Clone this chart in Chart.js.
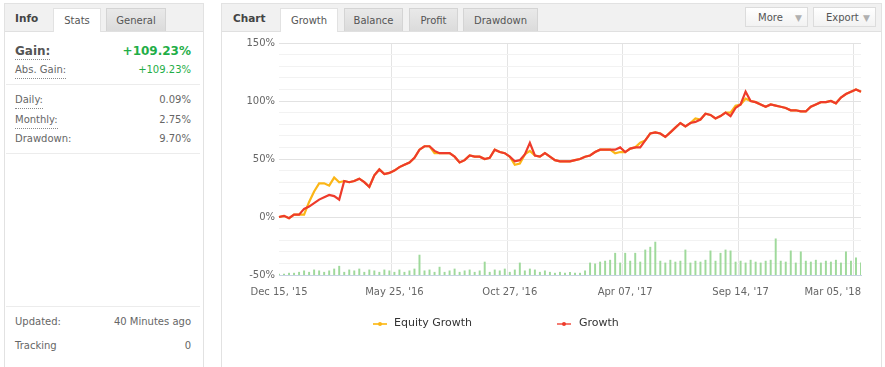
<!DOCTYPE html>
<html lang="en">
<head>
    <meta charset="UTF-8">
    <title>Growth Chart</title>
    <script src="https://cdn.jsdelivr.net/npm/chart.js"></script>
    <style>
        body {
            margin: 0;
            width: 885px;
            height: 367px;
            overflow: hidden;
            position: relative;
            background: #ffffff;
            font-family: "DejaVu Sans", Verdana, sans-serif;
            font-size: 10px;
            color: #666;
        }

        .panel {
            position: absolute;
            top: 3px;
            height: 400px;
            border: 1px solid #e2e2e2;
            background: #fff;
        }

        #info { left: 4px; width: 198px; }
        #chartBox { left: 221px; width: 659px; }

        .head {
            position: absolute;
            left: 0; right: 0; top: 0;
            height: 27px;
            background: #f1f1f1;
            border-bottom: 1px solid #e0e0e0;
        }

        .title {
            position: absolute;
            top: 8px;
            font-weight: bold;
            font-size: 10.5px;
            color: #444;
        }

        .tab {
            position: absolute;
            top: 4px;
            height: 23px;
            line-height: 24px;
            text-align: center;
            box-sizing: border-box;
            border: 1px solid #d4d4d4;
            border-bottom: none;
            background: linear-gradient(#e9e9e9, #dbdbdb);
            color: #555;
        }

        .tab.on {
            background: #fff;
            height: 24px;
            border-color: #e2e2e2;
        }

        .btn {
            position: absolute;
            top: 3px;
            height: 20px;
            line-height: 20px;
            box-sizing: border-box;
            border: 1px solid #dcdcdc;
            background: linear-gradient(#ffffff, #f2f2f2);
            color: #555;
            padding-left: 12px;
        }

        .btn .arr {
            position: absolute;
            right: 5px;
            top: 0;
            color: #b0b0b0;
            font-size: 9px;
        }

        .row {
            position: absolute;
            left: 10px;
            right: 12px;
            height: 16px;
            line-height: 16px;
        }

        .row .lab { float: left; }
        .row .val { float: right; }
        .dot { border-bottom: 1px dotted #8a8a8a; }

        .sep {
            position: absolute;
            left: 1px;
            right: 3px;
            height: 1px;
            background: #ececec;
        }

        .green { color: #1fae48; }

        #growthChart {
            position: absolute;
            left: 222px;
            top: 32px;
        }

        .leg {
            position: absolute;
            top: 316px;
            font-size: 11px;
            color: #333;
            line-height: 14px;
        }

        .mark {
            position: absolute;
            top: 323px;
            width: 14px;
            height: 2px;
        }

        .mark i {
            position: absolute;
            left: 5px;
            top: -1px;
            width: 4px;
            height: 4px;
            border-radius: 2px;
        }
    </style>
</head>
<body>
    <div class="panel" id="info">
        <div class="head">
            <span class="title" style="left:10px;">Info</span>
            <div class="tab on" style="left:48px; width:48px;">Stats</div>
            <div class="tab" style="left:101px; width:60px;">General</div>
        </div>

        <div class="row" style="top:39px;">
            <span class="lab dot" style="font-weight:bold; font-size:12px; color:#555;">Gain:</span>
            <span class="val green" style="font-weight:bold; font-size:12px;">+109.23%</span>
        </div>
        <div class="row" style="top:58px;">
            <span class="lab dot">Abs. Gain:</span>
            <span class="val green">+109.23%</span>
        </div>
        <div class="sep" style="top:80px;"></div>
        <div class="row" style="top:88px;">
            <span class="lab dot">Daily:</span>
            <span class="val">0.09%</span>
        </div>
        <div class="row" style="top:108px;">
            <span class="lab dot">Monthly:</span>
            <span class="val">2.75%</span>
        </div>
        <div class="row" style="top:127px;">
            <span class="lab">Drawdown:</span>
            <span class="val">9.70%</span>
        </div>
        <div class="sep" style="top:149px;"></div>

        <div class="sep" style="top:302px;"></div>
        <div class="row" style="top:310px;">
            <span class="lab">Updated:</span>
            <span class="val">40 Minutes ago</span>
        </div>
        <div class="row" style="top:334px;">
            <span class="lab">Tracking</span>
            <span class="val">0</span>
        </div>
    </div>

    <div class="panel" id="chartBox">
        <div class="head">
            <span class="title" style="left:11px;">Chart</span>
            <div class="tab on" style="left:58px; width:58px;">Growth</div>
            <div class="tab" style="left:122px; width:59px;">Balance</div>
            <div class="tab" style="left:187px; width:49px;">Profit</div>
            <div class="tab" style="left:241px; width:75px;">Drawdown</div>
            <div class="btn" style="left:523px; width:63px;">More<span class="arr">&#9660;</span></div>
            <div class="btn" style="left:591px; width:63px;">Export<span class="arr">&#9660;</span></div>
        </div>
    </div>

    <canvas id="growthChart" width="660" height="335"></canvas>

    <div class="mark" style="left:373px; background:#fcc43c;"><i style="background:#fbb617;"></i></div>
    <div class="leg" style="left:394px;">Equity Growth</div>
    <div class="mark" style="left:557px; background:#f47c72;"><i style="background:#ee3b2b;"></i></div>
    <div class="leg" style="left:579px;">Growth</div>

    <script>
        // Growth (%), one point every ~5px
        const growth = [
            0, 1, -1, 2, 2, 7, 9, 12, 15, 17,
            19, 18, 15, 31, 30, 31, 33, 30, 26, 36,
            41, 37, 38, 40, 43, 45, 47, 51, 58, 61,
            61, 57, 55, 55, 55, 52, 47, 49, 53, 52,
            52, 50, 51, 58, 56, 55, 52, 48, 49, 54,
            64, 53, 52, 55, 52, 49, 48, 48, 48, 49,
            50, 52, 53, 56, 58, 58, 58, 58, 60, 56,
            59, 60, 60, 66, 72, 73, 72, 69, 73, 77,
            81, 78, 81, 82, 84, 89, 88, 85, 87, 90,
            87, 94, 97, 108, 100, 99, 97, 95, 97, 96,
            95, 94, 92, 92, 91, 91, 95, 97, 99, 99,
            100, 98, 103, 106, 108, 110, 108
        ];

        // Equity growth (%)
        const equity = [
            0, 1, -1, 2, 2, 2, 13, 22, 29, 29,
            27, 34, 30, 31, 30, 31, 33, 30, 26, 36,
            41, 37, 38, 40, 43, 45, 47, 51, 58, 61,
            61, 55, 55, 55, 55, 52, 47, 49, 53, 52,
            52, 50, 51, 58, 56, 55, 52, 45, 46, 54,
            57, 53, 52, 55, 52, 49, 48, 48, 48, 49,
            50, 52, 53, 56, 58, 58, 58, 55, 56, 56,
            59, 60, 64, 66, 72, 73, 72, 69, 73, 77,
            81, 78, 81, 85, 84, 89, 88, 85, 87, 90,
            90, 96, 97, 102, 100, 99, 97, 95, 97, 96,
            95, 94, 92, 92, 91, 91, 95, 97, 99, 99,
            100, 98, 103, 106, 108, 110, 108
        ];

        // Traded volume (lots) shown as thin bars along the bottom
        const volume = [
            0.02, 0.02, 0.04, 0.04, 0.06, 0.09, 0.06, 0.11, 0.09, 0.06,
            0.09, 0.13, 0.19, 0.06, 0.11, 0.09, 0.13, 0.06, 0.11, 0.09,
            0.06, 0.11, 0.09, 0.06, 0.11, 0.06, 0.09, 0.13, 0.43, 0.09,
            0.11, 0.06, 0.17, 0.06, 0.09, 0.13, 0.06, 0.09, 0.11, 0.06,
            0.09, 0.28, 0.06, 0.11, 0.09, 0.13, 0.06, 0.11, 0.26, 0.09,
            0.13, 0.11, 0.06, 0.09, 0.06, 0.04, 0.06, 0.04, 0.06, 0.04,
            0.04, 0.09, 0.26, 0.24, 0.28, 0.30, 0.32, 0.47, 0.26, 0.47,
            0.30, 0.47, 0.28, 0.54, 0.60, 0.71, 0.30, 0.26, 0.32, 0.28,
            0.30, 0.54, 0.26, 0.30, 0.28, 0.32, 0.52, 0.30, 0.47, 0.54,
            0.52, 0.28, 0.30, 0.26, 0.32, 0.28, 0.26, 0.30, 0.32, 0.78,
            0.30, 0.28, 0.52, 0.26, 0.50, 0.30, 0.28, 0.32, 0.26, 0.30,
            0.28, 0.32, 0.26, 0.50, 0.30, 0.37, 0.26
        ];

        // Date labels and the point they sit on
        const tickIdx = [0, 23, 46, 69, 92, 115];
        const tickLabels = ["Dec 15, '15", "May 25, '16", "Oct 27, '16", "Apr 07, '17", "Sep 14, '17", "Mar 05, '18"];

        const categories = growth.map((_, i) => i);
        const axisFont = '"DejaVu Sans", Verdana, sans-serif';

        // draws the date labels, keeping the last one inside the plot
        const dateLabels = {
            id: 'dateLabels',
            afterDraw(chart) {
                const { ctx, chartArea, scales } = chart;
                ctx.save();
                ctx.font = '10px ' + axisFont;
                ctx.fillStyle = '#666';
                ctx.textAlign = 'center';
                ctx.textBaseline = 'middle';
                tickIdx.forEach((idx, k) => {
                    const w = ctx.measureText(tickLabels[k]).width;
                    let x = scales.x.getPixelForValue(idx);
                    x = Math.min(x, chartArea.right - w / 2);
                    ctx.fillText(tickLabels[k], x, chartArea.bottom + 17);
                });
                ctx.restore();
            }
        };

        const isMajor = v => Math.round(v) % 50 === 0;

        new Chart(document.getElementById('growthChart'), {
            type: 'line',
            data: {
                labels: categories,
                datasets: [
                    {
                        label: 'Growth',
                        data: growth,
                        borderColor: '#ee3b2b',
                        borderWidth: 2.2,
                        pointRadius: 0,
                        tension: 0,
                        order: 1
                    },
                    {
                        label: 'Equity Growth',
                        data: equity,
                        borderColor: '#fbb617',
                        borderWidth: 2.2,
                        pointRadius: 0,
                        tension: 0,
                        order: 2
                    },
                    {
                        type: 'bar',
                        label: 'Volume',
                        data: volume,
                        backgroundColor: '#9fd99b',
                        barThickness: 1.3,
                        yAxisID: 'yb',
                        order: 3
                    }
                ]
            },
            options: {
                responsive: false,
                animation: false,
                layout: { padding: { left: 0, top: 11, right: 21, bottom: 92 } },
                plugins: {
                    legend: { display: false },
                    tooltip: { enabled: false }
                },
                scales: {
                    x: {
                        offset: false,
                        ticks: { display: false, autoSkip: false },
                        grid: {
                            drawTicks: false,
                            color: c => tickIdx.includes(c.index) ? '#e4e4e4' : 'rgba(0,0,0,0)'
                        },
                        border: { display: true, color: '#c6d2e2' },
                        afterFit: s => { s.height = 0; }
                    },
                    y: {
                        min: -50,
                        max: 150,
                        ticks: {
                            stepSize: 10,
                            autoSkip: false,
                            padding: 4,
                            color: '#666',
                            font: { family: axisFont, size: 10 },
                            callback: v => isMajor(v) ? Math.round(v) + '%' : ''
                        },
                        grid: {
                            drawTicks: false,
                            color: c => c.tick && isMajor(c.tick.value) ? '#e2e2e2' : '#f2f2f2'
                        },
                        border: { display: false },
                        afterFit: s => { s.width = 57; }
                    },
                    yb: {
                        display: false,
                        min: 0,
                        max: 5
                    }
                }
            },
            plugins: [dateLabels]
        });
    </script>
</body>
</html>
